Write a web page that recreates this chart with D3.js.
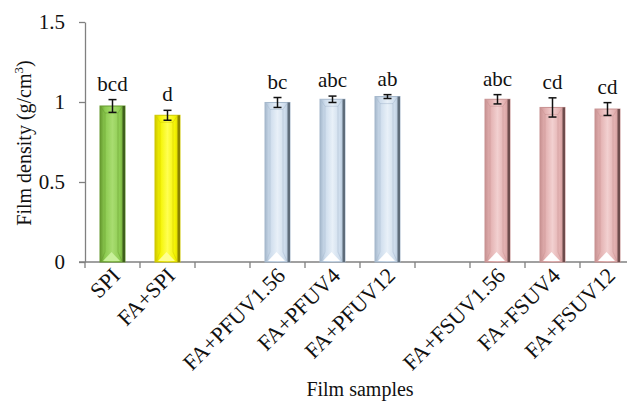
<!DOCTYPE html>
<html><head><meta charset="utf-8">
<script src="https://cdn.jsdelivr.net/npm/d3@7"></script>
<style>body{margin:0;background:#fff}svg{display:block}text{font-family:"Liberation Serif","Times New Roman",serif;fill:#111}</style>
</head><body><div id="chart"></div>
<script>
const categories = ["SPI","FA+SPI","","FA+PFUV1.56","FA+PFUV4","FA+PFUV12"," ","FA+FSUV1.56","FA+FSUV4","FA+FSUV12"];
const samples = ["SPI","FA+SPI","FA+PFUV1.56","FA+PFUV4","FA+PFUV12","FA+FSUV1.56","FA+FSUV4","FA+FSUV12"];
const density = [0.975,0.917,0.997,1.017,1.034,1.017,0.966,0.956];
const errors = [0.04,0.031,0.031,0.02,0.012,0.029,0.06,0.04];
const letters = ["bcd","d","bc","abc","ab","abc","cd","cd"];
const groups = ["spi","faspi","pf","pf","pf","fs","fs","fs"];
const yTicks = [0,0.5,1,1.5];
const yTickLabels = ["0","0.5","1","1.5"];

const palette = {
  spi:{light:"#a8dc70",mid:"#8ccb50",dark:"#66992f",edge:"#3f5f1c",tri:"#c8f09a"},
  faspi:{light:"#ffff50",mid:"#f4f400",dark:"#cfc800",edge:"#8a8400",tri:"#ffff90"},
  pf:{light:"#e8f0f8",mid:"#cddcec",dark:"#a5b8cc",edge:"#5e6c7a",tri:"#ffffff"},
  fs:{light:"#f2d0d0",mid:"#e2afaf",dark:"#c89292",edge:"#6e4c4c",tri:"#ffffff"}
};

const W=627,H=402;
const svg=d3.select("#chart").append("svg").attr("width",W).attr("height",H);
const defs=svg.append("defs");
Object.entries(palette).forEach(([k,c])=>{
  const g=defs.append("linearGradient").attr("id","g-"+k).attr("x1","0").attr("x2","1").attr("y1","0").attr("y2","0");
  g.append("stop").attr("offset","0").attr("stop-color",c.dark);
  g.append("stop").attr("offset","0.2").attr("stop-color",c.mid);
  g.append("stop").attr("offset","0.5").attr("stop-color",c.light);
  g.append("stop").attr("offset","0.8").attr("stop-color",c.mid);
  g.append("stop").attr("offset","1").attr("stop-color",c.dark);
});

const axisColor="#808080";
const x=d3.scaleBand().domain(categories).range([85,635]).padding(0);
const y=d3.scaleLinear().domain([0,1.5]).range([262,22]);
const barW=25;

// y axis
const ya=svg.append("g").attr("transform","translate(85,0)")
  .call(d3.axisLeft(y).tickValues(yTicks).tickFormat((d,i)=>yTickLabels[i]).tickSize(6).tickSizeOuter(0));
ya.select(".domain").attr("stroke",axisColor).attr("stroke-width",1.3);
ya.selectAll(".tick line").attr("stroke",axisColor).attr("stroke-width",1.3);
ya.selectAll(".tick text").attr("font-size",21).attr("font-family","Liberation Serif").attr("fill","#111").attr("x",-20);

// x axis
const xa=svg.append("g").attr("transform","translate(0,262)")
  .call(d3.axisBottom(x).tickSize(0).tickFormat(""));
xa.select(".domain").remove();
svg.append("line").attr("x1",79).attr("x2",635).attr("y1",262).attr("y2",262).attr("stroke",axisColor).attr("stroke-width",1.3);
svg.append("g").selectAll("line").data(categories.concat(["end"])).join("line")
  .attr("x1",(d,i)=>85+i*x.bandwidth()).attr("x2",(d,i)=>85+i*x.bandwidth())
  .attr("y1",262).attr("y2",268).attr("stroke",axisColor).attr("stroke-width",1.3);

// bars
const bars=svg.append("g").selectAll("g").data(samples).join("g")
  .attr("transform",d=>`translate(${x(d)+x.bandwidth()/2-barW/2},0)`);
bars.append("rect").attr("x",0).attr("width",barW)
  .attr("y",(d,i)=>y(density[i])).attr("height",(d,i)=>y(0)-y(density[i]))
  .attr("fill",(d,i)=>`url(#g-${groups[i]})`).attr("stroke",(d,i)=>palette[groups[i]].dark).attr("stroke-width",1);
bars.append("rect").attr("x",barW-2.5).attr("width",2.5)
  .attr("y",(d,i)=>y(density[i])).attr("height",(d,i)=>y(0)-y(density[i]))
  .attr("fill",(d,i)=>palette[groups[i]].edge);
bars.append("path").attr("fill","none").attr("stroke",(d,i)=>palette[groups[i]].dark).attr("stroke-opacity",0.6).attr("stroke-width",0.8)
  .attr("d",(d,i)=>{const t=y(density[i]),b=y(0);return `M1,${t+1}L5,${t+7}L5,${b-10}L1,${b-1}M${barW-3},${t+1}L${barW-7},${t+7}L${barW-7},${b-10}L${barW-3},${b-1}M5,${t+7}L${barW-7},${t+7}`;});
bars.append("path").attr("fill",(d,i)=>palette[groups[i]].tri)
  .attr("d",(d,i)=>{const b=y(0);return `M3,${b-1}L${barW/2-1},${b-10}L${barW-5},${b-1}Z`;});

// error bars
const eb=svg.append("g").selectAll("g").data(samples).join("g")
  .attr("transform",d=>`translate(${x(d)+x.bandwidth()/2},0)`).attr("stroke","#111").attr("stroke-width",1.5);
eb.append("line").attr("y1",(d,i)=>y(density[i]+errors[i])).attr("y2",(d,i)=>y(density[i]-errors[i]));
eb.append("line").attr("x1",-4).attr("x2",4).attr("y1",(d,i)=>y(density[i]+errors[i])).attr("y2",(d,i)=>y(density[i]+errors[i]));
eb.append("line").attr("x1",-4).attr("x2",4).attr("y1",(d,i)=>y(density[i]-errors[i])).attr("y2",(d,i)=>y(density[i]-errors[i]));

// letters
svg.append("g").selectAll("text").data(samples).join("text")
  .attr("x",d=>x(d)+x.bandwidth()/2).attr("y",(d,i)=>y(density[i]+errors[i])-9)
  .attr("text-anchor","middle").attr("font-size",21).text((d,i)=>letters[i]);

// x tick labels rotated
svg.append("g").selectAll("text").data(samples).join("text")
  .attr("transform",d=>`translate(${x(d)+x.bandwidth()/2+9},${277}) rotate(-45)`)
  .attr("text-anchor","end").attr("font-size",22).text(d=>d);

// axis titles
svg.append("text").attr("x",360).attr("y",396).attr("text-anchor","middle").attr("font-size",20).text("Film samples");
const yt=svg.append("text").attr("transform","translate(31,143) rotate(-90)").attr("text-anchor","middle").attr("font-size",20);
yt.append("tspan").text("Film density (g/cm");
yt.append("tspan").attr("font-size",13).attr("dy",-8).text("3");
yt.append("tspan").attr("dy",8).text(")");
</script></body></html>
